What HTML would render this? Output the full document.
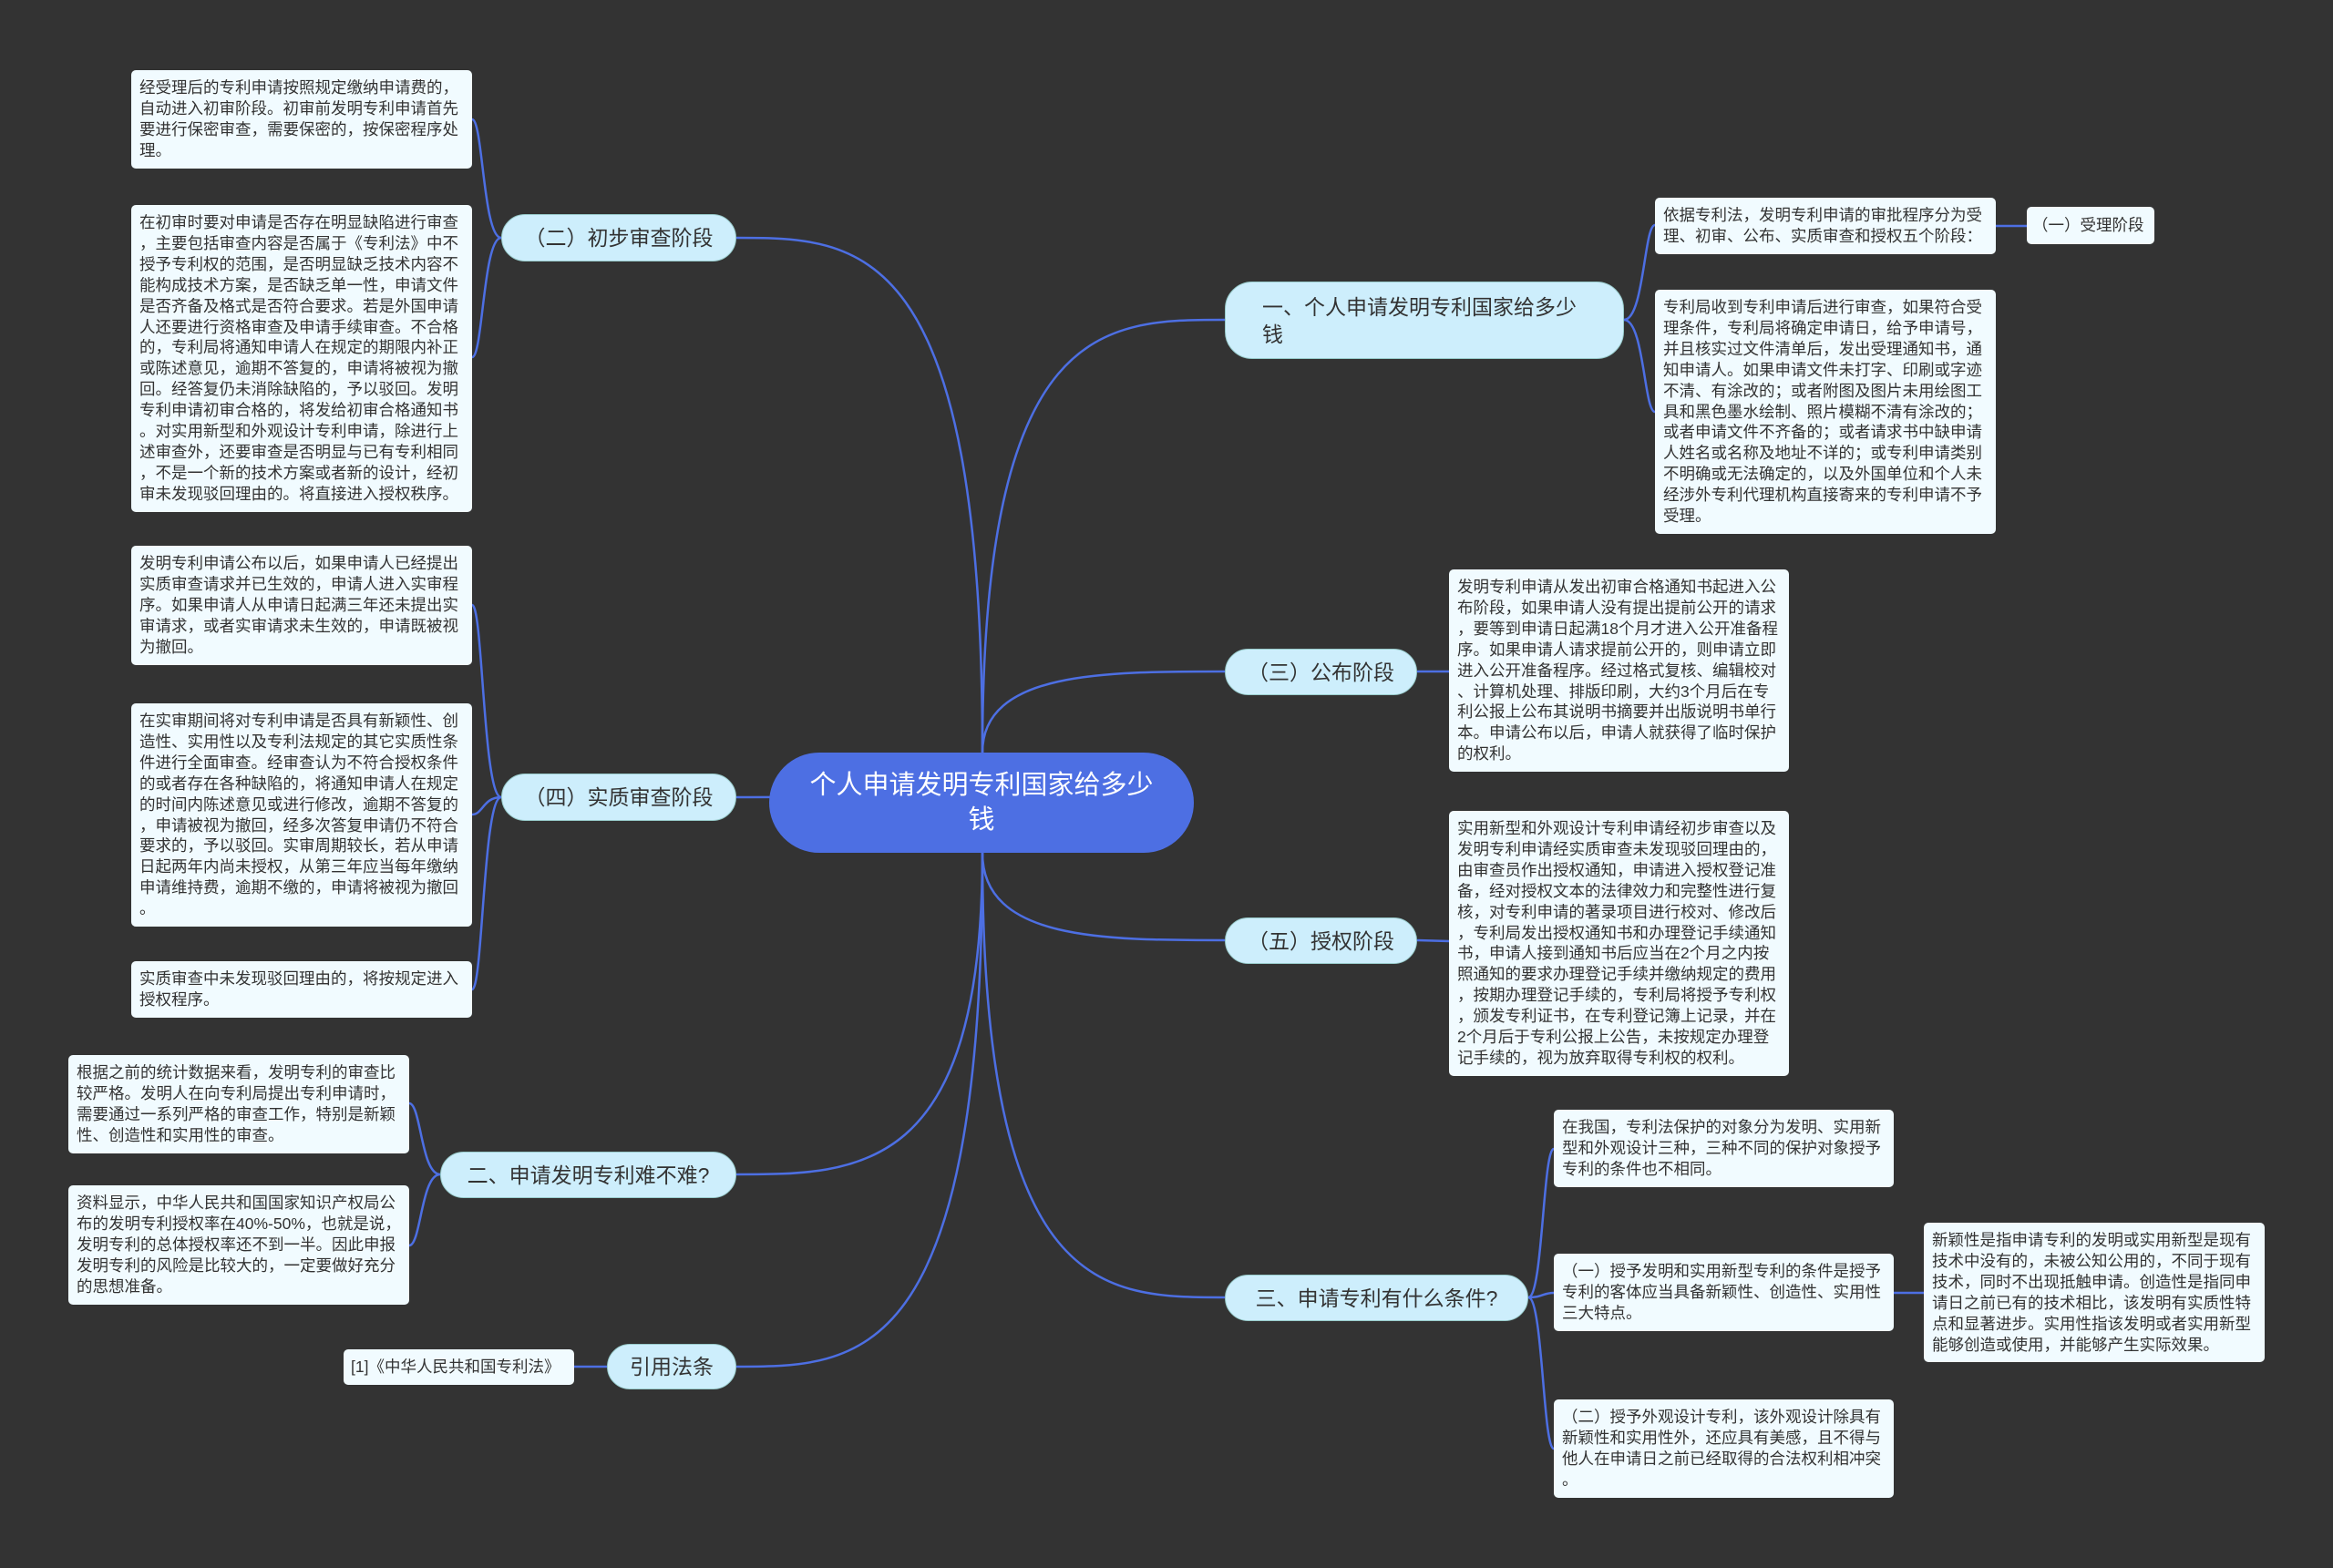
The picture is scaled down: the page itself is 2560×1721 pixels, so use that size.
<!DOCTYPE html>
<html><head><meta charset="utf-8">
<style>
body{margin:0;width:2560px;height:1721px;background:#333333;position:relative;overflow:hidden;font-family:"Liberation Sans","Noto Sans CJK SC",sans-serif;}
svg{position:absolute;left:0;top:0}
.n{position:absolute;box-sizing:border-box;}
.c{background:#4d6fe3;color:#fff;font-size:29px;line-height:38px;border-radius:55px;display:flex;align-items:center;justify-content:center;text-align:center;padding:0 40px}
.b{background:#cdeefc;color:#333;font-size:23px;line-height:30px;border-radius:30px;display:flex;align-items:center;justify-content:center;padding:0 18px;border:1px solid #9cc;}
.l{background:#f1fbff;color:#333;font-size:17.5px;line-height:22.9px;border-radius:5px;padding:8px 9px;line-break:anywhere;word-break:break-all;}
</style></head><body>
<svg width="2560" height="1721" fill="none" stroke="#4d6fe3" stroke-width="2.5">
<path d="M1078 826 C1078 351,1211 351,1344 351"/>
<path d="M1078 826 C1078 737,1211 737,1344 737"/>
<path d="M1078 936 C1078 1032,1211 1032,1344 1032"/>
<path d="M1078 936 C1078 1424,1211 1424,1344 1424"/>
<path d="M1078 826 C1078 261,943 261,808 261"/>
<path d="M1078 826 C1078 875,943 875,808 875"/>
<path d="M1078 936 C1078 1289,943 1289,808 1289"/>
<path d="M1078 936 C1078 1500,943 1500,808 1500"/>
<path d="M1782 351 C1804 351,1804 247,1816 247"/>
<path d="M1782 351 C1804 351,1804 452,1816 452"/>
<path d="M2188 248 L2224 248"/>
<path d="M1555 737 L1590 737"/>
<path d="M1555 1032 L1590 1033"/>
<path d="M1677 1424 C1693 1424,1693 1261,1705 1261"/>
<path d="M1677 1424 C1693 1424,1693 1419,1705 1419"/>
<path d="M1677 1424 C1693 1424,1693 1590,1705 1590"/>
<path d="M2075 1419 L2111 1419"/>
<path d="M550 261 C530 261,530 131,518 131"/>
<path d="M550 261 C530 261,530 392,518 392"/>
<path d="M550 875 C530 875,530 664,518 664"/>
<path d="M550 875 C530 875,530 894,518 894"/>
<path d="M550 875 C530 875,530 1086,518 1086"/>
<path d="M483 1289 C462 1289,462 1211,449 1211"/>
<path d="M483 1289 C462 1289,462 1367,449 1367"/>
<path d="M666 1500 L630 1500"/>
</svg>

<div class="n c" style="left:844px;top:826px;width:466px;height:110px">个人申请发明专利国家给多少钱</div>

<div class="n b" style="left:1344px;top:309px;width:438px;height:85px;justify-content:flex-start;padding-left:40px;padding-right:48px">一、个人申请发明专利国家给多少钱</div>
<div class="n b" style="left:1344px;top:712px;width:211px;height:51px">（三）公布阶段</div>
<div class="n b" style="left:1344px;top:1007px;width:211px;height:51px">（五）授权阶段</div>
<div class="n b" style="left:1344px;top:1399px;width:333px;height:51px">三、申请专利有什么条件?</div>
<div class="n b" style="left:550px;top:235px;width:258px;height:52px">（二）初步审查阶段</div>
<div class="n b" style="left:550px;top:849px;width:258px;height:52px">（四）实质审查阶段</div>
<div class="n b" style="left:483px;top:1264px;width:325px;height:51px">二、申请发明专利难不难?</div>
<div class="n b" style="left:666px;top:1475px;width:142px;height:50px">引用法条</div>

<div class="n l" style="left:144px;top:77px;width:374px;">经受理后的专利申请按照规定缴纳申请费的，自动进入初审阶段。初审前发明专利申请首先要进行保密审查，需要保密的，按保密程序处理。</div>
<div class="n l" style="left:144px;top:225px;width:374px;">在初审时要对申请是否存在明显缺陷进行审查，主要包括审查内容是否属于《专利法》中不授予专利权的范围，是否明显缺乏技术内容不能构成技术方案，是否缺乏单一性，申请文件是否齐备及格式是否符合要求。若是外国申请人还要进行资格审查及申请手续审查。不合格的，专利局将通知申请人在规定的期限内补正或陈述意见，逾期不答复的，申请将被视为撤回。经答复仍未消除缺陷的，予以驳回。发明专利申请初审合格的，将发给初审合格通知书。对实用新型和外观设计专利申请，除进行上述审查外，还要审查是否明显与已有专利相同，不是一个新的技术方案或者新的设计，经初审未发现驳回理由的。将直接进入授权秩序。</div>
<div class="n l" style="left:144px;top:599px;width:374px;">发明专利申请公布以后，如果申请人已经提出实质审查请求并已生效的，申请人进入实审程序。如果申请人从申请日起满三年还未提出实审请求，或者实审请求未生效的，申请既被视为撤回。</div>
<div class="n l" style="left:144px;top:772px;width:374px;">在实审期间将对专利申请是否具有新颖性、创造性、实用性以及专利法规定的其它实质性条件进行全面审查。经审查认为不符合授权条件的或者存在各种缺陷的，将通知申请人在规定的时间内陈述意见或进行修改，逾期不答复的，申请被视为撤回，经多次答复申请仍不符合要求的，予以驳回。实审周期较长，若从申请日起两年内尚未授权，从第三年应当每年缴纳申请维持费，逾期不缴的，申请将被视为撤回。</div>
<div class="n l" style="left:144px;top:1055px;width:374px;">实质审查中未发现驳回理由的，将按规定进入授权程序。</div>
<div class="n l" style="left:75px;top:1158px;width:374px;">根据之前的统计数据来看，发明专利的审查比较严格。发明人在向专利局提出专利申请时，需要通过一系列严格的审查工作，特别是新颖性、创造性和实用性的审查。</div>
<div class="n l" style="left:75px;top:1301px;width:374px;">资料显示，中华人民共和国国家知识产权局公布的发明专利授权率在40%-50%，也就是说，发明专利的总体授权率还不到一半。因此申报发明专利的风险是比较大的，一定要做好充分的思想准备。</div>
<div class="n l" style="left:377px;top:1481px;width:253px;padding:8px 8px;white-space:nowrap">[1]《中华人民共和国专利法》</div>

<div class="n l" style="left:1816px;top:217px;width:374px;">依据专利法，发明专利申请的审批程序分为受理、初审、公布、实质审查和授权五个阶段：</div>
<div class="n l" style="left:2224px;top:227px;width:140px;padding:9px 6px;white-space:nowrap">（一）受理阶段</div>
<div class="n l" style="left:1816px;top:318px;width:374px;">专利局收到专利申请后进行审查，如果符合受理条件，专利局将确定申请日，给予申请号，并且核实过文件清单后，发出受理通知书，通知申请人。如果申请文件未打字、印刷或字迹不清、有涂改的；或者附图及图片未用绘图工具和黑色墨水绘制、照片模糊不清有涂改的；或者申请文件不齐备的；或者请求书中缺申请人姓名或名称及地址不详的；或专利申请类别不明确或无法确定的，以及外国单位和个人未经涉外专利代理机构直接寄来的专利申请不予受理。</div>
<div class="n l" style="left:1590px;top:625px;width:373px;">发明专利申请从发出初审合格通知书起进入公布阶段，如果申请人没有提出提前公开的请求，要等到申请日起满18个月才进入公开准备程序。如果申请人请求提前公开的，则申请立即进入公开准备程序。经过格式复核、编辑校对、计算机处理、排版印刷，大约3个月后在专利公报上公布其说明书摘要并出版说明书单行本。申请公布以后，申请人就获得了临时保护的权利。</div>
<div class="n l" style="left:1590px;top:890px;width:373px;">实用新型和外观设计专利申请经初步审查以及发明专利申请经实质审查未发现驳回理由的，由审查员作出授权通知，申请进入授权登记准备，经对授权文本的法律效力和完整性进行复核，对专利申请的著录项目进行校对、修改后，专利局发出授权通知书和办理登记手续通知书，申请人接到通知书后应当在2个月之内按照通知的要求办理登记手续并缴纳规定的费用，按期办理登记手续的，专利局将授予专利权，颁发专利证书，在专利登记簿上记录，并在2个月后于专利公报上公告，未按规定办理登记手续的，视为放弃取得专利权的权利。</div>
<div class="n l" style="left:1705px;top:1218px;width:373px;">在我国，专利法保护的对象分为发明、实用新型和外观设计三种，三种不同的保护对象授予专利的条件也不相同。</div>
<div class="n l" style="left:1705px;top:1376px;width:373px;">（一）授予发明和实用新型专利的条件是授予专利的客体应当具备新颖性、创造性、实用性三大特点。</div>
<div class="n l" style="left:2111px;top:1342px;width:374px;">新颖性是指申请专利的发明或实用新型是现有技术中没有的，未被公知公用的，不同于现有技术，同时不出现抵触申请。创造性是指同申请日之前已有的技术相比，该发明有实质性特点和显著进步。实用性指该发明或者实用新型能够创造或使用，并能够产生实际效果。</div>
<div class="n l" style="left:1705px;top:1536px;width:373px;">（二）授予外观设计专利，该外观设计除具有新颖性和实用性外，还应具有美感，且不得与他人在申请日之前已经取得的合法权利相冲突。</div>
</body></html>
